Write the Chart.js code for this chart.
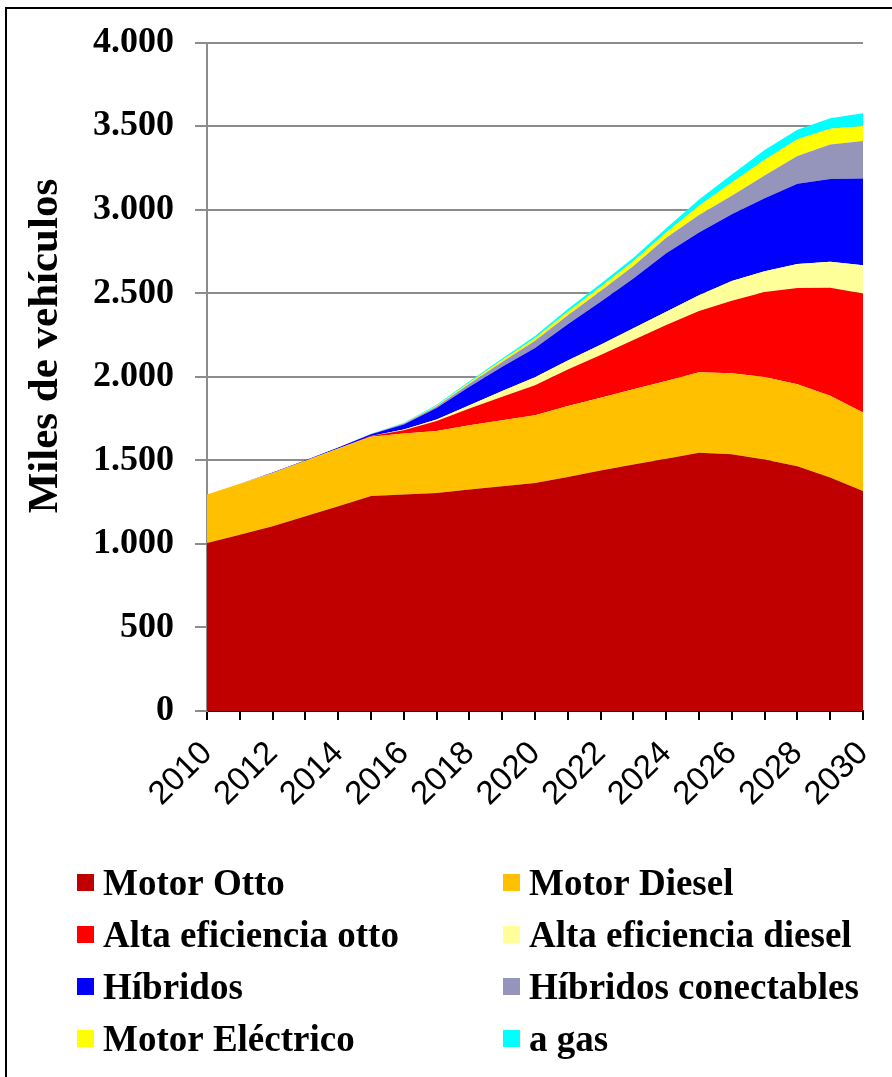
<!DOCTYPE html>
<html>
<head>
<meta charset="utf-8">
<script src="https://cdn.jsdelivr.net/npm/chart.js@4/dist/chart.umd.min.js"></script>
<style>
  body { margin: 0; background: #fff; overflow: hidden; }
  #marco { position: absolute; left: 5px; top: 7px; width: 1000px; height: 1200px; border: 2px solid #000; }
  #myChart { position: absolute; left: 0; top: 0; }
</style>
</head>
<body>
<div id="marco"></div>
<canvas id="myChart" width="892" height="1077"></canvas>
<script>
// datos (miles de vehiculos)
const anios = ["2010","2011","2012","2013","2014","2015","2016","2017","2018","2019","2020",
               "2021","2022","2023","2024","2025","2026","2027","2028","2029","2030"];

const motorOtto   = [1005,1055,1106,1166,1226,1286,1295,1305,1325,1345,1365,1400,1440,1475,1510,1545,1537,1505,1465,1397,1317];
const motorDiesel = [290,305,319,331,345,355,365,370,385,395,405,425,435,450,465,482,484,494,490,490,469];
const altaOtto    = [0,0,0,0,0,5,20,60,100,140,180,218,255,295,335,367,434,508,576,646,713];
const altaDiesel  = [0,0,0,0,0,0,5,10,20,35,48,55,62,70,80,94,118,124,144,155,169];
const hibridos    = [0,0,2,3,6,10,30,68,110,145,175,216,257,298,350,375,400,438,480,495,518];
const conectables = [0,0,0,0,0,2,5,10,18,28,42,55,65,75,92,105,110,135,166,207,225];
const electrico   = [0,0,0,0,0,0,2,4,8,12,16,20,24,28,32,55,80,95,100,94,90];
const aGas        = [0,0,0,0,0,1,3,5,7,10,13,16,19,22,25,38,48,58,58,63,76];

const nombres = ["Motor Otto","Motor Diesel","Alta eficiencia otto","Alta eficiencia diesel",
                 "Híbridos","Híbridos conectables","Motor Eléctrico","a gas"];
const colores = ["#C00000","#FFC000","#FF0000","#FFFF99","#0000FF","#9595BC","#FFFF00","#00FFFF"];
const series  = [motorOtto, motorDiesel, altaOtto, altaDiesel, hibridos, conectables, electrico, aGas];

const yTicks = ["0","500","1.000","1.500","2.000","2.500","3.000","3.500","4.000"];

const serif = "'Liberation Serif', 'Times New Roman', serif";

// titulo del eje y y leyenda dibujados a mano
const extras = {
  id: "extras",
  afterDraw(chart) {
    const ctx = chart.ctx;
    ctx.save();
    ctx.fillStyle = "#000";
    ctx.font = "bold 43px " + serif;
    ctx.translate(46, 346);
    ctx.rotate(-Math.PI / 2);
    ctx.textAlign = "center";
    ctx.textBaseline = "middle";
    ctx.fillText("Miles de vehículos", 0, 0);
    ctx.restore();

    ctx.save();
    ctx.font = "bold 37px " + serif;
    ctx.textBaseline = "alphabetic";
    const colX = [77, 503];
    const filas = [895, 947, 999, 1051];
    chart.data.datasets.forEach((ds, i) => {
      const x = colX[i % 2];
      const y = filas[Math.floor(i / 2)];
      ctx.fillStyle = ds.backgroundColor;
      ctx.fillRect(x, y - 21, 17, 17);
      ctx.fillStyle = "#000";
      ctx.fillText(ds.label, x + 26, y);
    });
    ctx.restore();
  }
};

const data = {
  labels: anios,
  datasets: series.map((s, i) => ({
    label: nombres[i],
    data: s,
    backgroundColor: colores[i],
    borderWidth: 0,
    pointRadius: 0,
    tension: 0,
    fill: i === 0 ? "origin" : "-1",
  })),
};

const config = {
  type: "line",
  data,
  options: {
    responsive: false,
    animation: false,
    layout: { padding: { top: 42, right: 29, left: 0, bottom: 0 } },
    plugins: { legend: { display: false }, tooltip: { enabled: false } },
    scales: {
      x: {
        grid: { display: true, drawOnChartArea: false, color: "#000", tickLength: 9, lineWidth: 2 },
        border: { color: "#000", width: 2 },
        ticks: {
          autoSkip: false,
          minRotation: 45,
          maxRotation: 45,
          padding: 14,
          color: "#000",
          font: { family: "'Liberation Sans', Arial, sans-serif", size: 33 },
          callback: (v, i) => (i % 2 === 0 ? anios[i] : ""),
        },
        afterFit: (scale) => {
          scale.height = 1077 - 711;
          scale.paddingRight = 0;
          scale.paddingLeft = 0;
        },
      },
      y: {
        stacked: true,
        min: 0,
        max: 4000,
        grid: { color: "#8c8c8c", lineWidth: 2, tickLength: 12 },
        border: { color: "#8c8c8c", width: 2 },
        ticks: {
          stepSize: 500,
          padding: 21,
          color: "#000",
          font: { family: serif, size: 36, weight: "bold" },
          callback: (v) => yTicks[v / 500],
        },
        afterFit: (scale) => { scale.width = 207; },
      },
    },
  },
  plugins: [extras],
};

var myChart = new Chart(document.getElementById("myChart"), config);
</script>
</body>
</html>
